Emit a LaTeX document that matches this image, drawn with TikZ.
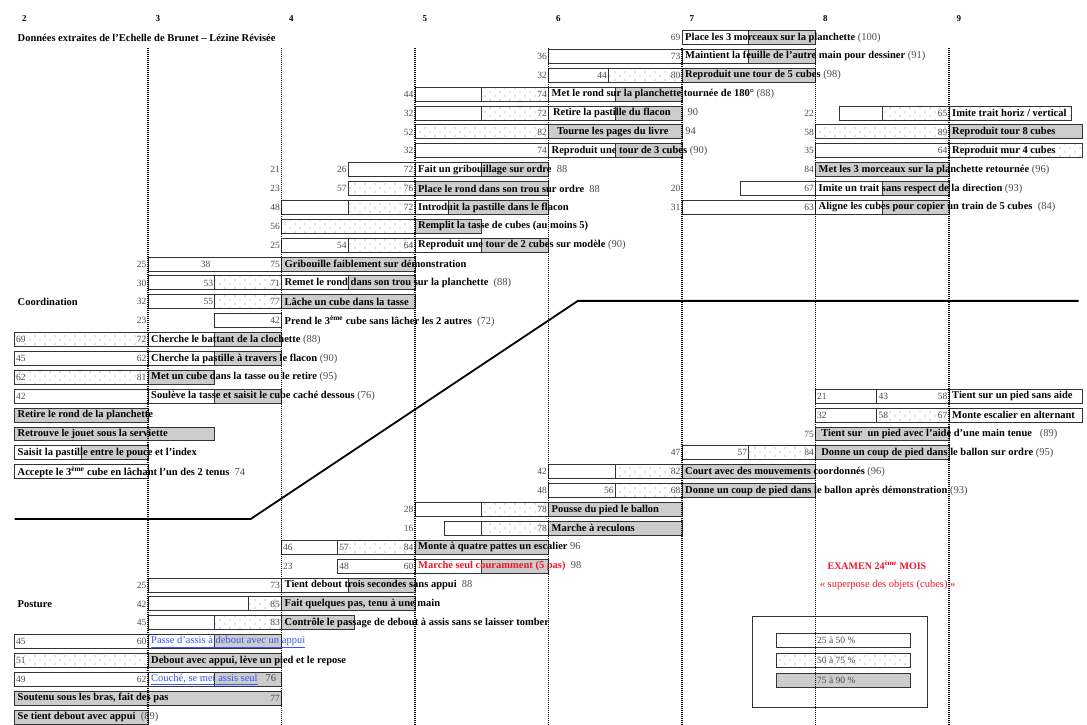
\documentclass[tikz,border=0pt]{standalone}
\usepackage{fontspec}
\setmainfont{Liberation Serif}
\usetikzlibrary{patterns}

\definecolor{linkblue}{RGB}{55,85,250}
\definecolor{exred}{RGB}{240,20,40}

\pgfdeclarepatternformonly{sparse dots}{\pgfqpoint{-1pt}{-1pt}}{\pgfqpoint{9pt}{7pt}}{\pgfqpoint{10pt}{8pt}}%
  {\pgfpathcircle{\pgfqpoint{0pt}{0pt}}{0.65pt}\pgfpathcircle{\pgfqpoint{5pt}{4pt}}{0.65pt}\pgfusepath{fill}}

\newcounter{pctnum}
% one piece of a bar: row, from month, to month, style
\newcommand\barseg[4]{\draw[#4] (#2,{#1-0.37}) rectangle (#3,{#1+0.37});}
\newcommand\pctr[3]{\stepcounter{pctnum}\node[num, anchor=east] (p\arabic{pctnum}) at (#1,#2) {#3};}
\newcommand\pctl[3]{\stepcounter{pctnum}\node[num, anchor=west] (p\arabic{pctnum}) at (#1,#2) {#3};}
\newcommand\milestone[6][]{\node[lab, #1] (#2) at (#3,#4) {\textbf{#5}\textcolor{black!70}{#6}};}

\begin{document}
\begin{tikzpicture}[x=133.5pt, y=-18.88pt,
    wbox/.style={draw=black!80, line width=1pt, fill=white},
    dbox/.style={draw=black!80, line width=1pt, pattern=sparse dots, pattern color=black!50},
    gbox/.style={draw=black!80, line width=1pt, fill=black!20},
    num/.style={font=\fontsize{9.5}{10}\selectfont, text=black!70, inner sep=1.5pt},
    lab/.style={anchor=west, font=\fontsize{10.5}{12}\selectfont, inner sep=3pt},
    head/.style={anchor=west, xshift=4pt, font=\bfseries\fontsize{9}{10}\selectfont},
    colline/.style={line width=1.3pt, dash pattern=on 1pt off 1pt}]
  \useasboundingbox (252.5pt,37.5pt) rectangle (1339.5pt,-686.5pt);

  \foreach \m in {2,...,9}
    \node[head] (h\m) at (\m,-0.98) {\m};
  \node[lab] (titre) at (2,0) {\textbf{Données extraites de l'Echelle de Brunet – Lézine Révisée}};

  % coordination
  \barseg{0}{7}{7.5}{wbox} \barseg{0}{7.5}{8}{gbox}
  \pctr{7}{0}{69}
  \milestone{m0}{7}{0}{Place les 3 morceaux sur la planchette}{~(100)}

  \barseg{1}{6}{7}{wbox} \barseg{1}{7}{7.5}{wbox} \barseg{1}{7.5}{8}{gbox}
  \pctr{6}{1}{36} \pctr{7}{1}{73}
  \milestone{m1}{7}{1}{Maintient la feuille de l'autre main pour dessiner}{~(91)}

  \barseg{2}{6}{6.45}{wbox} \barseg{2}{6.45}{7}{dbox} \barseg{2}{7}{8}{gbox}
  \pctr{6}{2}{32} \pctr{6.45}{2}{44} \pctr{7}{2}{80}
  \milestone{m2}{7}{2}{Reproduit une tour de 5 cubes}{~(98)}

  \barseg{3}{5}{5.5}{wbox} \barseg{3}{5.5}{6}{dbox} \barseg{3}{6}{6.5}{wbox} \barseg{3}{6.5}{7}{gbox}
  \pctr{5}{3}{44} \pctr{6}{3}{74}
  \milestone{m3}{6}{3}{Met le rond sur la planchette tournée de 180°}{~(88)}

  \barseg{4}{5}{5.5}{wbox} \barseg{4}{5.5}{6}{dbox} \barseg{4}{6}{6.5}{wbox} \barseg{4}{6.5}{7}{gbox}
  \pctr{5}{4}{32} \pctr{6}{4}{72}
  \milestone{m4}{6.01}{4}{Retire la pastille du flacon}{\hspace{17pt}90}

  \barseg{4}{8.18}{8.5}{wbox} \barseg{4}{8.5}{9}{dbox} \barseg{4}{9}{9.92}{dbox}
  \pctr{8}{4}{22} \pctr{9}{4}{65}
  \milestone{m4b}{9}{4}{Imite trait horiz / vertical}{}

  \barseg{5}{5}{6}{dbox} \barseg{5}{6}{7}{gbox}
  \pctr{5}{5}{52} \pctr{6}{5}{82}
  \milestone{m5}{6.04}{5}{Tourne les pages du livre}{\hspace{17pt}94}

  \barseg{5}{8}{9}{dbox} \barseg{5}{9}{10}{gbox}
  \pctr{8}{5}{58} \pctr{9}{5}{89}
  \milestone{m5b}{9}{5}{Reproduit tour 8 cubes}{}

  \barseg{6}{5}{6}{wbox} \barseg{6}{6}{6.5}{wbox} \barseg{6}{6.5}{7}{gbox}
  \pctr{5}{6}{32} \pctr{6}{6}{74}
  \milestone{m6}{6}{6}{Reproduit une tour de 3 cubes}{~(90)}

  \barseg{6}{8}{9}{wbox} \barseg{6}{9}{10}{dbox}
  \pctr{8}{6}{35} \pctr{9}{6}{64}
  \milestone{m6b}{9}{6}{Reproduit mur 4 cubes}{}

  \barseg{7}{4.5}{5}{wbox} \barseg{7}{5}{5.5}{wbox} \barseg{7}{5.5}{6}{gbox}
  \pctr{4}{7}{21} \pctr{4.5}{7}{26} \pctr{5}{7}{72}
  \milestone{m7}{5}{7}{Fait un gribouillage sur ordre}{~~88}

  \barseg{7}{8}{9}{gbox}
  \pctr{8}{7}{84}
  \milestone{m7b}{8}{7}{Met les 3 morceaux sur la planchette retournée}{~(96)}

  \barseg{8}{4.5}{5}{dbox} \barseg{8}{5}{6}{gbox}
  \pctr{4}{8}{23} \pctr{4.5}{8}{57} \pctr{5}{8}{76}
  \milestone{m8}{5}{8}{Place le rond dans son trou sur ordre}{~~88}

  \barseg{8}{7.44}{8}{wbox} \barseg{8}{8}{8.5}{wbox} \barseg{8}{8.5}{9}{gbox}
  \pctr{7}{8}{20} \pctr{8}{8}{67}
  \milestone{m8b}{8}{8}{Imite un trait sans respect de la direction}{~(93)}

  \barseg{9}{4}{4.5}{wbox} \barseg{9}{4.5}{5}{dbox} \barseg{9}{5}{5.25}{wbox} \barseg{9}{5.25}{6}{gbox}
  \pctr{4}{9}{48} \pctr{5}{9}{72}
  \milestone{m9}{5}{9}{Introduit la pastille dans le flacon}{}

  \barseg{9}{7}{8}{wbox} \barseg{9}{8}{8.5}{wbox} \barseg{9}{8.5}{9}{gbox}
  \pctr{7}{9}{31} \pctr{8}{9}{63}
  \milestone{m9b}{8}{9}{Aligne les cubes pour copier un train de 5 cubes}{~~(84)}

  \barseg{10}{4}{5}{dbox} \barseg{10}{5}{5.5}{gbox}
  \pctr{4}{10}{56}
  \milestone{m10}{5}{10}{Remplit la tasse de cubes (au moins 5)}{}

  \barseg{11}{4}{4.5}{wbox} \barseg{11}{4.5}{5}{dbox} \barseg{11}{5}{5.5}{wbox} \barseg{11}{5.5}{6}{gbox}
  \pctr{4}{11}{25} \pctr{4.5}{11}{54} \pctr{5}{11}{64}
  \milestone{m11}{5}{11}{Reproduit une tour de 2 cubes sur modèle}{~(90)}

  \barseg{12}{3}{4}{wbox} \barseg{12}{4}{5}{gbox}
  \pctr{3}{12}{25} \pctr{3.48}{12}{38} \pctr{4}{12}{75}
  \milestone{m12}{4}{12}{Gribouille faiblement sur démonstration}{}

  \barseg{13}{3}{3.5}{wbox} \barseg{13}{3.5}{4}{dbox} \barseg{13}{4}{4.5}{wbox} \barseg{13}{4.5}{5}{gbox}
  \pctr{3}{13}{30} \pctr{3.5}{13}{53} \pctr{4}{13}{71}
  \milestone{m13}{4}{13}{Remet le rond dans son trou sur la planchette}{~~(88)}

  \node[lab] (coord) at (2,14) {\textbf{Coordination}};
  \barseg{14}{3}{3.5}{wbox} \barseg{14}{3.5}{4}{dbox} \barseg{14}{4}{5}{gbox}
  \pctr{3}{14}{32} \pctr{3.5}{14}{55} \pctr{4}{14}{77}
  \milestone{m14}{4}{14}{Lâche un cube dans la tasse}{}

  \barseg{15}{3.5}{4}{wbox}
  \pctr{3}{15}{23} \pctr{4}{15}{42}
  \milestone{m15}{4}{15}{Prend le 3\textsuperscript{ème} cube sans lâcher les 2 autres}{~~(72)}

  \barseg{16}{2}{3}{dbox} \barseg{16}{3}{3.5}{wbox} \barseg{16}{3.5}{4}{gbox}
  \pctl{2}{16}{69} \pctr{3}{16}{72}
  \milestone{m16}{3}{16}{Cherche le battant de la clochette}{~(88)}

  \barseg{17}{2}{3}{wbox} \barseg{17}{3}{3.5}{wbox} \barseg{17}{3.5}{4}{gbox}
  \pctl{2}{17}{45} \pctr{3}{17}{62}
  \milestone{m17}{3}{17}{Cherche la pastille à travers le flacon}{~(90)}

  \barseg{18}{2}{3}{dbox} \barseg{18}{3}{3.5}{gbox}
  \pctl{2}{18}{62} \pctr{3}{18}{81}
  \milestone{m18}{3}{18}{Met un cube dans la tasse ou le retire}{~(95)}

  \barseg{19}{2}{3}{wbox} \barseg{19}{3}{3.5}{wbox} \barseg{19}{3.5}{4}{gbox}
  \pctl{2}{19}{42}
  \milestone{m19}{3}{19}{Soulève la tasse et saisit le cube caché dessous}{~(76)}

  \barseg{19}{8}{8.46}{wbox} \barseg{19}{8.46}{9}{wbox} \barseg{19}{9}{10}{wbox}
  \pctl{8}{19}{21} \pctl{8.46}{19}{43} \pctr{9}{19}{58}
  \milestone{m19b}{9}{19}{Tient sur un pied sans aide}{}

  \barseg{20}{2}{3}{gbox}
  \milestone{m20}{2}{20}{Retire le rond de la planchette}{}

  \barseg{20}{8}{8.46}{wbox} \barseg{20}{8.46}{9}{dbox} \barseg{20}{9}{10}{wbox}
  \pctl{8}{20}{32} \pctl{8.46}{20}{58} \pctr{9}{20}{67}
  \milestone{m20b}{9}{20}{Monte escalier en alternant}{}

  \barseg{21}{2}{3.5}{gbox}
  \milestone{m21}{2}{21}{Retrouve le jouet sous la serviette}{}

  \barseg{21}{8}{9}{gbox}
  \pctr{8}{21}{75}
  \milestone{m21b}{8}{21}{~Tient sur ~un pied avec l'aide d'une main tenue}{~~~(89)}

  \barseg{22}{2}{2.5}{wbox} \barseg{22}{2.5}{3}{gbox}
  \milestone{m22}{2}{22}{Saisit la pastille entre le pouce et l'index}{}

  \barseg{22}{7}{7.5}{wbox} \barseg{22}{7.5}{8}{dbox} \barseg{22}{8}{9}{gbox}
  \pctr{7}{22}{47} \pctr{7.5}{22}{57} \pctr{8}{22}{84}
  \milestone{m22b}{8}{22}{~Donne un coup de pied dans le ballon sur ordre}{~(95)}

  \barseg{23}{2}{3}{wbox}
  \milestone{m23}{2}{23}{Accepte le 3\textsuperscript{ème} cube en lâchant l'un des 2 tenus}{~~74}

  \barseg{23}{6}{6.5}{wbox} \barseg{23}{6.5}{7}{dbox} \barseg{23}{7}{8}{gbox}
  \pctr{6}{23}{42} \pctr{7}{23}{82}
  \milestone{m23b}{7}{23}{Court avec des mouvements coordonnés}{~(96)}

  \barseg{24}{6}{6.5}{wbox} \barseg{24}{6.5}{7}{dbox} \barseg{24}{7}{8}{gbox}
  \pctr{6}{24}{48} \pctr{6.5}{24}{56} \pctr{7}{24}{68}
  \milestone{m24}{7}{24}{Donne un coup de pied dans le ballon après démonstration}{~(93)}

  % posture
  \draw[line width=1.8pt] (2,25.5) -- (3.77,25.5) -- (6.22,13.95) -- (9.97,13.95);

  \barseg{25}{5}{5.5}{wbox} \barseg{25}{5.5}{6}{dbox} \barseg{25}{6}{7}{gbox}
  \pctr{5}{25}{28} \pctr{6}{25}{78}
  \milestone{m25}{6}{25}{Pousse du pied le ballon}{}

  \barseg{26}{5.22}{5.5}{wbox} \barseg{26}{5.5}{6}{dbox} \barseg{26}{6}{7}{gbox}
  \pctr{5}{26}{16} \pctr{6}{26}{78}
  \milestone{m26}{6}{26}{Marche à reculons}{}

  \barseg{27}{4}{4.42}{wbox} \barseg{27}{4.42}{5}{dbox} \barseg{27}{5}{6}{gbox}
  \pctl{4}{27}{46} \pctl{4.42}{27}{57} \pctr{5}{27}{84}
  \milestone{m27}{5}{27}{Monte à quatre pattes un escalier}{~96}

  \barseg{28}{4.42}{5}{wbox} \barseg{28}{5}{5.5}{wbox} \barseg{28}{5.5}{6}{gbox}
  \pctl{4}{28}{23} \pctl{4.42}{28}{48} \pctr{5}{28}{60}
  \milestone[text=exred]{m28}{5}{28}{Marche seul couramment (5 pas)}{~~98}

  \barseg{29}{3}{4}{wbox} \barseg{29}{4}{4.5}{wbox} \barseg{29}{4.5}{5}{gbox}
  \pctr{3}{29}{25} \pctr{4}{29}{73}
  \milestone{m29}{4}{29}{Tient debout trois secondes sans appui}{~~88}

  \node[lab] (post) at (2,30) {\textbf{Posture}};
  \barseg{30}{3}{3.75}{wbox} \barseg{30}{3.75}{4}{dbox} \barseg{30}{4}{5}{gbox}
  \pctr{3}{30}{42} \pctr{4}{30}{85}
  \milestone{m30}{4}{30}{Fait quelques pas, tenu à une main}{}

  \barseg{31}{3}{3.5}{wbox} \barseg{31}{3.5}{4}{dbox} \barseg{31}{4}{4.55}{gbox}
  \pctr{3}{31}{45} \pctr{4}{31}{83}
  \milestone{m31}{4}{31}{Contrôle le passage de debout à assis sans se laisser tomber}{}

  \barseg{32}{2}{3}{wbox} \barseg{32}{3}{3.5}{wbox} \barseg{32}{3.5}{4}{gbox}
  \pctl{2}{32}{45} \pctr{3}{32}{60}
  \node[lab, text=linkblue] (m32) at (3,32) {\underline{Passe d'assis à debout avec un appui}};

  \barseg{33}{2}{3}{dbox} \barseg{33}{3}{4}{gbox}
  \pctl{2}{33}{51}
  \milestone{m33}{3}{33}{Debout avec appui, lève un pied et le repose}{}

  \barseg{34}{2}{3}{wbox} \barseg{34}{3}{3.5}{wbox} \barseg{34}{3.5}{4}{gbox}
  \pctl{2}{34}{49} \pctr{3}{34}{62}
  \node[lab] (m34) at (3,34) {\textcolor{linkblue}{\underline{Couché, se met assis seul}}\textcolor{black!70}{~~~76}};

  \barseg{35}{2}{4}{gbox}
  \pctr{4}{35}{77}
  \milestone{m35}{2}{35}{Soutenu sous les bras, fait des pas}{}

  \barseg{36}{2}{3}{gbox}
  \milestone{m36}{2}{36}{Se tient debout avec appui}{~~(89)}

  % examen et legende
  \node[font=\bfseries\fontsize{10}{11}\selectfont, text=exred] (exam) at (8.46,27.94) {EXAMEN 24\textsuperscript{ème} MOIS};
  \node[font=\fontsize{10.5}{11}\selectfont, text=exred] (superp) at (8.54,29) {«~superpose des objets (cubes)~»};

  \draw[black!80, line width=0.9pt] (7.53,30.69) rectangle (8.84,35.46);
  \barseg{31.95}{7.71}{8.71}{wbox} \barseg{33}{7.71}{8.71}{dbox} \barseg{34.05}{7.71}{8.71}{gbox}
  \node[num, anchor=west] (leg1) at (8,31.95) {25 à 50 \%};
  \node[num, anchor=west] (leg2) at (8,33) {50 à 75 \%};
  \node[num, anchor=west] (leg3) at (8,34.05) {75 à 90 \%};

  \foreach \m in {3,...,9}
    \draw[colline] (\m,0.56) -- (\m,36.4);
\end{tikzpicture}
\end{document}
